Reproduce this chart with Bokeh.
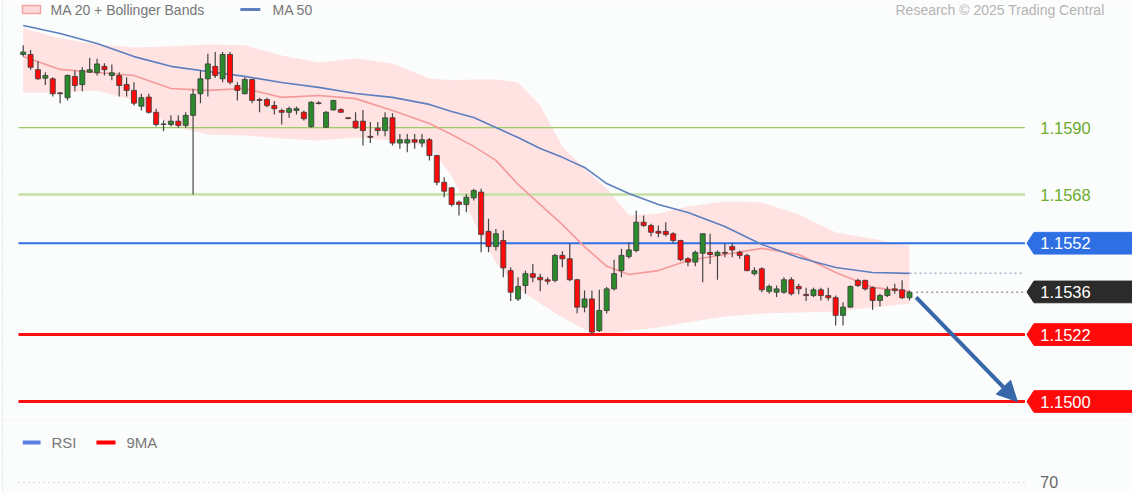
from bokeh.plotting import figure
from bokeh.models import Range1d, Span, Arrow, NormalHead, ColumnDataSource
from bokeh.layouts import column
from bokeh.embed import file_html
from bokeh.resources import INLINE
from bokeh.core.properties import value

# ---------------- data ----------------
opens = [
    1.16140, 1.16140, 1.16090, 1.16062, 1.16060, 1.16014, 1.15998, 1.16068, 1.16041, 1.16082,
    1.16080, 1.16101, 1.16071, 1.16071, 1.16041, 1.16022, 1.15970, 1.16000, 1.15950, 1.15912,
    1.15910, 1.15921, 1.15907, 1.15940, 1.16011, 1.16060, 1.16101, 1.16060, 1.16140, 1.16038,
    1.16011, 1.16058, 1.15992, 1.15992, 1.15972, 1.15956, 1.15950, 1.15956, 1.15950, 1.15903,
    1.15981, 1.15901, 1.15958, 1.15959, 1.15932, 1.15921, 1.15921, 1.15871, 1.15898, 1.15890,
    1.15932, 1.15849, 1.15849, 1.15860, 1.15849, 1.15860, 1.15808, 1.15720, 1.15702, 1.15655,
    1.15647, 1.15669, 1.15688, 1.15559, 1.15509, 1.15529, 1.15430, 1.15337, 1.15381, 1.15420,
    1.15408, 1.15400, 1.15398, 1.15480, 1.15469, 1.15400, 1.15310, 1.15337, 1.15233, 1.15299,
    1.15370, 1.15430, 1.15476, 1.15496, 1.15589, 1.15578, 1.15559, 1.15559, 1.15551, 1.15529,
    1.15469, 1.15458, 1.15487, 1.15490, 1.15480, 1.15490, 1.15509, 1.15490, 1.15480, 1.15420,
    1.15436, 1.15362, 1.15359, 1.15359, 1.15400, 1.15378, 1.15352, 1.15348, 1.15367, 1.15348,
    1.15341, 1.15283, 1.15310, 1.15398, 1.15398, 1.15374, 1.15332, 1.15348, 1.15370, 1.15367,
    1.15341,
]
highs = [
    1.16170, 1.16155, 1.16118, 1.16082, 1.16065, 1.16016, 1.16074, 1.16087, 1.16098, 1.16129,
    1.16126, 1.16111, 1.16107, 1.16082, 1.16065, 1.16049, 1.16011, 1.16011, 1.15962, 1.15923,
    1.15940, 1.15940, 1.15950, 1.16027, 1.16087, 1.16142, 1.16148, 1.16148, 1.16148, 1.16049,
    1.16065, 1.16060, 1.15998, 1.15998, 1.15987, 1.15962, 1.15969, 1.15969, 1.15956, 1.15986,
    1.15986, 1.15954, 1.15991, 1.15963, 1.15934, 1.15950, 1.15958, 1.15918, 1.15918, 1.15950,
    1.15947, 1.15879, 1.15879, 1.15879, 1.15879, 1.15866, 1.15811, 1.15737, 1.15704, 1.15660,
    1.15682, 1.15699, 1.15699, 1.15600, 1.15567, 1.15562, 1.15441, 1.15408, 1.15430, 1.15452,
    1.15420, 1.15408, 1.15485, 1.15494, 1.15518, 1.15403, 1.15365, 1.15365, 1.15367, 1.15376,
    1.15466, 1.15502, 1.15523, 1.15627, 1.15611, 1.15584, 1.15578, 1.15589, 1.15556, 1.15531,
    1.15474, 1.15496, 1.15553, 1.15551, 1.15496, 1.15518, 1.15520, 1.15496, 1.15485, 1.15441,
    1.15441, 1.15384, 1.15381, 1.15408, 1.15408, 1.15387, 1.15374, 1.15374, 1.15374, 1.15374,
    1.15348, 1.15326, 1.15381, 1.15403, 1.15400, 1.15378, 1.15354, 1.15378, 1.15387, 1.15398,
    1.15365,
]
lows = [
    1.16133, 1.16090, 1.16057, 1.16040, 1.16002, 1.15980, 1.15989, 1.16019, 1.16019, 1.16079,
    1.16071, 1.16071, 1.16055, 1.16002, 1.16002, 1.15972, 1.15956, 1.15945, 1.15903, 1.15888,
    1.15903, 1.15899, 1.15899, 1.15680, 1.15980, 1.16002, 1.16063, 1.16049, 1.16041, 1.15989,
    1.16009, 1.15980, 1.15950, 1.15967, 1.15943, 1.15910, 1.15932, 1.15943, 1.15923, 1.15899,
    1.15976, 1.15899, 1.15956, 1.15949, 1.15927, 1.15896, 1.15841, 1.15849, 1.15874, 1.15871,
    1.15841, 1.15830, 1.15819, 1.15830, 1.15835, 1.15792, 1.15710, 1.15671, 1.15641, 1.15611,
    1.15622, 1.15660, 1.15490, 1.15490, 1.15496, 1.15408, 1.15330, 1.15330, 1.15354, 1.15392,
    1.15362, 1.15384, 1.15392, 1.15441, 1.15395, 1.15290, 1.15293, 1.15220, 1.15228, 1.15289,
    1.15365, 1.15408, 1.15469, 1.15490, 1.15573, 1.15542, 1.15540, 1.15542, 1.15520, 1.15461,
    1.15444, 1.15444, 1.15392, 1.15452, 1.15400, 1.15474, 1.15474, 1.15469, 1.15428, 1.15414,
    1.15359, 1.15354, 1.15343, 1.15354, 1.15348, 1.15352, 1.15330, 1.15343, 1.15332, 1.15332,
    1.15250, 1.15250, 1.15308, 1.15376, 1.15365, 1.15301, 1.15312, 1.15343, 1.15354, 1.15337,
    1.15332,
]
closes = [
    1.16148, 1.16098, 1.16060, 1.16071, 1.16011, 1.16011, 1.16071, 1.16038, 1.16087, 1.16090,
    1.16109, 1.16090, 1.16080, 1.16038, 1.16022, 1.15980, 1.15998, 1.15950, 1.15910, 1.15910,
    1.15921, 1.15907, 1.15940, 1.16009, 1.16060, 1.16109, 1.16071, 1.16140, 1.16049, 1.16022,
    1.16058, 1.15989, 1.15989, 1.15972, 1.15962, 1.15950, 1.15962, 1.15962, 1.15929, 1.15983,
    1.15979, 1.15950, 1.15989, 1.15950, 1.15930, 1.15899, 1.15890, 1.15868, 1.15890, 1.15932,
    1.15849, 1.15860, 1.15860, 1.15852, 1.15860, 1.15808, 1.15720, 1.15691, 1.15647, 1.15647,
    1.15671, 1.15693, 1.15549, 1.15509, 1.15551, 1.15439, 1.15359, 1.15378, 1.15420, 1.15408,
    1.15400, 1.15395, 1.15480, 1.15469, 1.15400, 1.15310, 1.15337, 1.15228, 1.15299, 1.15370,
    1.15420, 1.15480, 1.15498, 1.15589, 1.15578, 1.15556, 1.15553, 1.15549, 1.15529, 1.15466,
    1.15458, 1.15490, 1.15551, 1.15483, 1.15490, 1.15487, 1.15498, 1.15480, 1.15430, 1.15430,
    1.15367, 1.15378, 1.15370, 1.15400, 1.15354, 1.15370, 1.15348, 1.15367, 1.15348, 1.15341,
    1.15283, 1.15310, 1.15378, 1.15381, 1.15370, 1.15332, 1.15348, 1.15367, 1.15365, 1.15341,
    1.15359,
]

# indicator samples (candle index -> value)
ind_idx = [0, 5, 10, 15, 20, 25, 30, 35, 40, 45, 50, 55, 58, 61, 64, 67, 70, 73, 76, 79,
           82, 86, 90, 95, 100, 105, 110, 115, 120]
bb_upper = [1.16225, 1.16193, 1.16173, 1.16163, 1.16166, 1.16173, 1.16170, 1.16137, 1.16114, 1.16127,
            1.16110, 1.16061, 1.16055, 1.16058, 1.16058, 1.16048, 1.15972, 1.15838, 1.15765, 1.15700,
            1.15611, 1.15618, 1.15641, 1.15657, 1.15654, 1.15614, 1.15555, 1.15535, 1.15512]
bb_lower = [1.16015, 1.16015, 1.16022, 1.15989, 1.15907, 1.15877, 1.15874, 1.15864, 1.15857, 1.15867,
            1.15857, 1.15838, 1.15742, 1.15591, 1.15457, 1.15371, 1.15322, 1.15276, 1.15237, 1.15223,
            1.15233, 1.15243, 1.15260, 1.15279, 1.15289, 1.15292, 1.15296, 1.15309, 1.15322]
ma20 = [1.16133, 1.16091, 1.16081, 1.16071, 1.16028, 1.16022, 1.16028, 1.15999, 1.16005, 1.15995,
        1.15956, 1.15913, 1.15877, 1.15838, 1.15792, 1.15713, 1.15647, 1.15581, 1.15509, 1.15444,
        1.15417, 1.15430, 1.15463, 1.15483, 1.15503, 1.15483, 1.15424, 1.15375, 1.15361]
ma50 = [1.16235, 1.16209, 1.16176, 1.16133, 1.16101, 1.16084, 1.16068, 1.16048, 1.16032, 1.16012,
        1.15999, 1.15976, 1.15953, 1.15933, 1.15900, 1.15867, 1.15831, 1.15802, 1.15769, 1.15716,
        1.15683, 1.15647, 1.15621, 1.15575, 1.15516, 1.15473, 1.15440, 1.15424, 1.15421]

levels = [1.1590, 1.1568, 1.1552, 1.1536, 1.1522, 1.1500]
level_labels = ["1.1590", "1.1568", "1.1552", "1.1536", "1.1522", "1.1500"]
target_level = 1.1500
top_legend_labels = ["MA 20 + Bollinger Bands", "MA 50"]
credit_text = ["Research © 2025 Trading Central"]
rsi_levels = [70]
rsi_labels = ["70"]
rsi_legend_labels = ["RSI", "9MA"]
rsi_legend_colors = ["#5b7fe0", "#ff0000"]

# ---------------- styling ----------------
BG = "#fbfcfc"
FONT = "Liberation Sans"
GREEN_C = "#2b8a2b"
RED_C = "#ff0a0a"
X0, X1 = -3.073, 150.19
Y0, Y1 = 1.149442, 1.163173
PX = (Y1 - Y0) / 418.0          # price per pixel in the main pane
LINE_L, LINE_R = -0.64, 135.63
TAG_TIP, TAG_L, TAG_R = 135.9, 136.85, 151.0
TAG_HALF = 0.000356
LABEL_X = 137.7

p = figure(width=1132, height=418, x_range=Range1d(X0, X1), y_range=Range1d(Y0, Y1),
           output_backend="svg", toolbar_location=None, min_border=0,
           background_fill_color=BG, border_fill_color=BG, outline_line_color=None)
p.axis.visible = False
p.grid.visible = False
p.add_layout(Span(location=-2.8, dimension="height", line_color="#c9d3e6", line_dash="1 2", line_width=1))

# Bollinger band
p.varea(x=ind_idx, y1=bb_lower, y2=bb_upper, fill_color="#ffe2e2", fill_alpha=1.0)

# horizontal levels
lv_style = {
    "1.1590": ("#9ccc65", 1.2),
    "1.1568": ("#c5e1a5", 2.5),
    "1.1552": ("#2f6fe4", 2.0),
    "1.1522": ("#ff1010", 3.0),
    "1.1500": ("#ff1010", 3.0),
}
for v, lab in zip(levels, level_labels):
    if lab in lv_style:
        c, w = lv_style[lab]
        p.segment(x0=[LINE_L], y0=[v], x1=[LINE_R], y1=[v], line_color=c, line_width=w)

# moving averages
p.line(ind_idx, ma20, line_color="#f59a9a", line_width=1.6)
p.line(ind_idx, ma50, line_color="#5d7fbf", line_width=1.6)

# candles
n = len(closes)
idx = list(range(n))
tops = [max(o, c) for o, c in zip(opens, closes)]
bots = [min(o, c) for o, c in zip(opens, closes)]
cols = [GREEN_C if c >= o else RED_C for o, c in zip(opens, closes)]
src = ColumnDataSource(dict(x=idx, o=opens, h=highs, l=lows, c=closes, t=tops, b=bots, col=cols))
p.segment(x0="x", y0="l", x1="x", y1="h", source=src, line_color="#454545", line_width=1.2)
p.vbar(x="x", width=0.68, top="t", bottom="b", source=src, fill_color="col", line_color="#3a3a3a", line_width=0.8)

# projections (dotted)
last = n - 1
p.segment(x0=[last + 0.9], y0=[closes[-1]], x1=[LINE_R], y1=[closes[-1]],
          line_color="#9a9a9a", line_width=1.5, line_dash="2 3")
p.segment(x0=[ind_idx[-1]], y0=[ma50[-1]], x1=[LINE_R - 0.4], y1=[ma50[-1]],
          line_color="#aab6cc", line_width=1.5, line_dash="2 3")

# tags
tag_col = {"1.1552": "#2f6fe4", "1.1536": "#2b2b2b", "1.1522": "#ff0a0a", "1.1500": "#ff0a0a"}
xs, ys, fc, tv, tl = [], [], [], [], []
for v, lab in zip(levels, level_labels):
    if lab in tag_col:
        xs.append([TAG_TIP, TAG_L, TAG_R, TAG_R, TAG_L])
        ys.append([v, v + TAG_HALF, v + TAG_HALF, v - TAG_HALF, v - TAG_HALF])
        fc.append(tag_col[lab])
        tv.append(v)
        tl.append(lab)

# forecast arrow
AC = "#3767a8"
p.add_layout(Arrow(end=NormalHead(size=20, fill_color=AC, line_color=AC),
                   x_start=last + 0.9, y_start=closes[-1] - 0.00017,
                   x_end=134.6, y_end=target_level,
                   line_color=AC, line_width=4))

p.patches(xs=xs, ys=ys, fill_color=fc, line_color=fc)
p.text(x=[LABEL_X] * len(tv), y=tv, text=tl, text_color="white", text_baseline="middle",
       text_font=value(FONT), text_font_size="16.5px")
gv = [v for v, lab in zip(levels, level_labels) if lab not in tag_col]
gl = [lab for lab in level_labels if lab not in tag_col]
p.text(x=[LABEL_X] * len(gv), y=gv, text=gl, text_color="#6bab2e", text_baseline="middle",
       text_font=value(FONT), text_font_size="16.5px")

# top legend / credit line (kept fully inside the pane)
TOP_MID = Y1 - 9 * PX
p.quad(left=[-0.1], right=[2.35], bottom=[TOP_MID - 4 * PX], top=[TOP_MID + 4 * PX],
       fill_color="#ffd9d9", line_color="#f4a3a3", line_width=1.5)
p.segment(x0=[29.4], y0=[TOP_MID], x1=[32.1], y1=[TOP_MID], line_color="#5d7fbf", line_width=3)
p.text(x=[3.7, 33.75], y=[TOP_MID] * 2, text=top_legend_labels, text_color="#777777",
       text_baseline="middle", text_font=value(FONT), text_font_size="14px")
p.text(x=[118.1], y=[TOP_MID], text=credit_text, text_color="#b4b4b4",
       text_baseline="middle", text_font=value(FONT), text_font_size="14px")

# ---------------- RSI panel ----------------
r = figure(width=1132, height=74, x_range=p.x_range, y_range=Range1d(64.44, 105.56),
           output_backend="svg", toolbar_location=None, min_border=0,
           background_fill_color=BG, border_fill_color=BG, outline_line_color=None)
r.axis.visible = False
r.grid.visible = False
r.add_layout(Span(location=105.1, dimension="width", line_color="#d8dde3", line_dash="1 3", line_width=1))
r.add_layout(Span(location=-2.8, dimension="height", line_color="#c9d3e6", line_dash="1 2", line_width=1))
for lv in rsi_levels:
    r.segment(x0=[LINE_L], y0=[lv], x1=[LINE_R], y1=[lv], line_color="#b8b8b8", line_width=1, line_dash="1 4")
r.text(x=[LABEL_X] * len(rsi_levels), y=rsi_levels, text=rsi_labels, text_color="#666666",
       text_baseline="middle", text_font=value(FONT), text_font_size="16px")

# legend of the RSI pane (swatch + label)
LEG_Y = 92.2
sw_x0 = [-0.05, 9.92]
sw_x1 = [2.35, 12.5]
lab_x = [3.83, 13.99]
r.segment(x0=sw_x0, y0=[LEG_Y] * 2, x1=sw_x1, y1=[LEG_Y] * 2, line_color=rsi_legend_colors, line_width=4)
r.text(x=lab_x, y=[LEG_Y] * 2, text=rsi_legend_labels, text_color="#777777", text_baseline="middle",
       text_font=value(FONT), text_font_size="15px")

layout = column(p, r, spacing=0)
open("out.html", "w").write(file_html(layout, INLINE))
